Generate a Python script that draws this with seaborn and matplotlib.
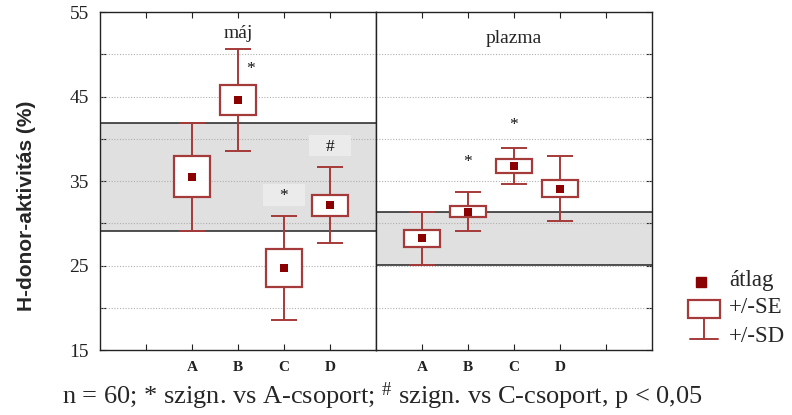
import numpy as np
import pandas as pd
import matplotlib
matplotlib.use("Agg")
import matplotlib.pyplot as plt
from matplotlib.patches import Rectangle
import seaborn as sns

# ---------------- data ----------------
groups = ["A", "B", "C", "D"]
maj_mean = [35.5, 44.6, 24.7, 32.15]
maj_se = [2.4, 1.8, 2.2, 1.25]
maj_sd = [6.4, 6.0, 6.2, 4.45]
maj_marks = ["", "*", "*", "#"]
maj_mark_y = [0, 48.3, 33.2, 39.0]

plazma_mean = [28.2, 31.35, 36.8, 34.1]
plazma_se = [1.05, 0.65, 0.8, 1.05]
plazma_sd = [3.15, 2.3, 2.1, 3.8]
plazma_marks = ["", "*", "*", ""]
plazma_mark_y = [0, 37.3, 41.6, 0]

panel_titles = ["máj", "plazma"]
ylabel = "H-donor-aktivitás (%)"
legend_labels = ["átlag", "+/-SE", "+/-SD"]
caption = "n = 60; * szign. vs A-csoport; $^{\\#}$ szign. vs C-csoport, p < 0,05"

# ---------------- style ----------------
sns.set_style("ticks")
plt.rcParams["font.family"] = ["Liberation Serif", "DejaVu Serif"]
plt.rcParams["mathtext.fontset"] = "custom"
plt.rcParams["mathtext.rm"] = "Liberation Serif"
plt.rcParams["mathtext.it"] = "Liberation Serif"
plt.rcParams["mathtext.bf"] = "Liberation Serif:bold"

EDGE = "#a53a3a"
MEAN = "#8b0000"
BAND = "#e0e0e0"

W, H = 792, 415
fig = plt.figure(figsize=(W / 100, H / 100), dpi=100)
fig.patch.set_facecolor("white")

def px_axes(x0, y0, x1, y1):
    return fig.add_axes([x0 / W, 1 - y1 / H, (x1 - x0) / W, (y1 - y0) / H])

ax1 = px_axes(100, 12, 376, 350)
ax2 = px_axes(376, 12, 652, 350)

panels = [
    (ax1, maj_mean, maj_se, maj_sd, maj_marks, maj_mark_y, [2, 3, 4, 5], panel_titles[0]),
    (ax2, plazma_mean, plazma_se, plazma_sd, plazma_marks, plazma_mark_y, [1, 2, 3, 4], panel_titles[1]),
]

for i, (ax, mean, se, sd, marks, mark_y, pos, title) in enumerate(panels):
    df = pd.DataFrame({"group": groups, "pos": pos, "mean": mean, "se": se, "sd": sd})
    ax.set_xlim(0, 6)
    ax.set_ylim(15, 55)
    # reference band from group A mean +/- SD
    lo = df["mean"][0] - df["sd"][0]
    hi = df["mean"][0] + df["sd"][0]
    ax.axhspan(lo, hi, color=BAND, zorder=0.5, lw=0)
    ax.axhline(lo, color="#222222", lw=1.1, zorder=0.8)
    ax.axhline(hi, color="#222222", lw=1.1, zorder=0.8)
    for g in range(20, 55, 5):
        ax.axhline(g, color="#b0b0b0", lw=0.8, ls=(0, (1, 1.5)), zorder=1)
    # SD whiskers
    ax.errorbar(df["pos"], df["mean"], yerr=df["sd"], fmt="none", ecolor=EDGE,
                elinewidth=1.4, capsize=9.5, capthick=1.4, zorder=2)
    # SE boxes
    ax.bar(df["pos"], 2 * df["se"], bottom=df["mean"] - df["se"], width=0.8,
           color="white", edgecolor=EDGE, linewidth=1.6, zorder=3)
    # means
    sns.scatterplot(data=df, x="pos", y="mean", marker="s", color=MEAN, s=30,
                    edgecolor=MEAN, linewidth=0, ax=ax, zorder=4, legend=False)
    # significance marks
    for p, m, yv in zip(pos, marks, mark_y):
        if not m:
            continue
        dx = 0.28 if (i == 0 and m == "*" and p == 3) else 0.0
        if i == 0 and p in (4, 5):
            ax.add_patch(Rectangle((p + dx - 0.45, yv - 1.1), 0.9, 2.5,
                                   facecolor="#ebebeb", edgecolor="none", zorder=1.5))
        ax.text(p + dx, yv, m, ha="center", va="center", fontsize=12.5, zorder=5,
                color="#111111")
    ax.text(pos[1] if i == 0 else 3.0, 52.4 if i == 0 else 51.9, title,
            ha="center", va="center", fontsize=14)
    ax.set_xlabel("")
    ax.set_ylabel("")
    ax.set_xticks([1, 2, 3, 4, 5])
    labs = ["", "A", "B", "C", "D"] if i == 0 else ["A", "B", "C", "D", ""]
    ax.set_xticklabels(labs, fontsize=11, fontweight="bold")
    ax.set_yticks(range(15, 56, 5))
    ax.tick_params(axis="both", direction="in", length=4, width=0.8, colors="#222222")
    ax.tick_params(axis="x", top=True, bottom=True, pad=8)
    for s in ax.spines.values():
        s.set_color("#222222")
        s.set_linewidth(1.0)
        s.set_visible(True)

ax1.set_yticklabels([str(v) if v % 10 == 5 else "" for v in range(15, 56, 5)], fontsize=14)
ax1.tick_params(axis="y", left=True, right=False, pad=8)
ax2.tick_params(axis="y", left=False, right=True, labelleft=False, labelright=False)
ax1.set_ylabel(ylabel, fontsize=15, fontweight="bold", family=["Liberation Sans", "DejaVu Sans"])
ax1.yaxis.set_label_coords(-0.232, 0.426)

# ---------------- legend ----------------
lax = px_axes(672, 255, 792, 355)
lax.set_xlim(672, 792)
lax.set_ylim(355, 255)
lax.axis("off")
lax.plot([701], [282], marker="s", color=MEAN, ms=6.5, ls="none")
lax.add_patch(Rectangle((688, 300), 32, 18, facecolor="white", edgecolor=EDGE, lw=1.6))
lax.plot([704, 704], [318, 339], color=EDGE, lw=1.4)
lax.plot([690, 718], [339, 339], color=EDGE, lw=1.4)
for ty, t in zip([280, 307, 336], legend_labels):
    lax.text(729, ty, t, ha="left", va="center", fontsize=16.5)

# ---------------- caption ----------------
fig.text(62 / W, 1 - 396 / H, caption, ha="left", va="center", fontsize=19)

fig.savefig("out.png", dpi=100, facecolor="white")
